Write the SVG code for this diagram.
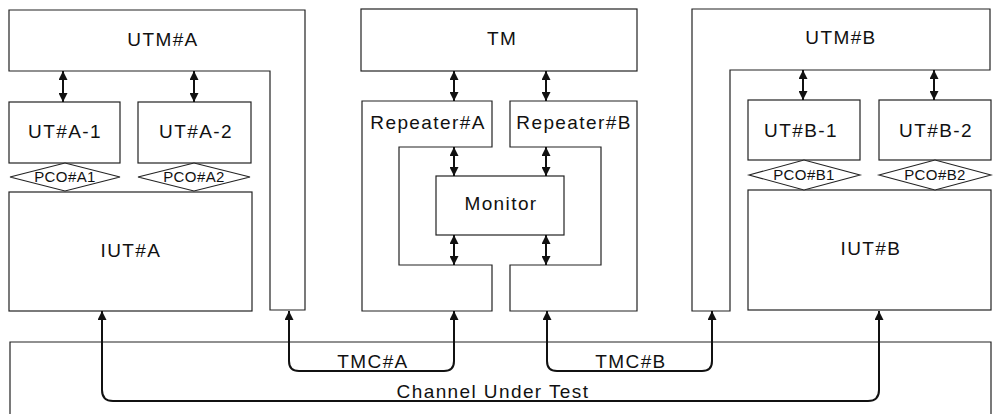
<svg xmlns="http://www.w3.org/2000/svg" width="993" height="414" viewBox="0 0 993 414">
  <style>
    .box { fill: #fff; stroke: #222; stroke-width: 1.2; }
    .pco { fill: #fff; stroke: #222; stroke-width: 1.1; }
    .lbl { font-family: "Liberation Sans", Arial, sans-serif; font-size: 19px; letter-spacing: 1.4px; fill: #111; text-anchor: middle; }
    .small { font-family: "Liberation Sans", Arial, sans-serif; font-size: 15px; letter-spacing: 0.4px; fill: #111; text-anchor: middle; }
    .link { fill: none; stroke: #111; stroke-width: 2; }
  </style>
  <defs>
    <marker id="head" viewBox="0 0 10 10" refX="10" refY="5" markerWidth="10" markerHeight="9" markerUnits="userSpaceOnUse" orient="auto-start-reverse">
      <path d="M0,0 L10,5 L0,10 z" fill="#111"/>
    </marker>
  </defs>
  <rect width="993" height="414" fill="#fff"/>

  <!-- test channel frame -->
  <g id="channel">
    <path class="box" d="M10,416 V342 H991 V416"/>
    <text class="lbl" x="493" y="398">Channel Under Test</text>
  </g>

  <!-- side A -->
  <g id="utm-a">
    <path class="box" d="M9,10 H305 V310 H270 V71 H9 Z"/>
    <text class="lbl" x="163" y="46">UTM#A</text>
  </g>
  <g id="ut-a1">
    <rect class="box" x="9" y="102" width="111" height="61"/>
    <text class="lbl" x="65" y="138">UT#A-1</text>
  </g>
  <g id="ut-a2">
    <rect class="box" x="138" y="102" width="113" height="61"/>
    <text class="lbl" x="196" y="138">UT#A-2</text>
  </g>
  <g id="iut-a">
    <rect class="box" x="9" y="192" width="243" height="119"/>
    <text class="lbl" x="131" y="257">IUT#A</text>
  </g>
  <g id="pco-a1">
    <polygon class="pco" points="10,177 65,163 120,177 65,191"/>
    <text class="small" x="65" y="182">PCO#A1</text>
  </g>
  <g id="pco-a2">
    <polygon class="pco" points="138,177 194,163 250,177 194,191"/>
    <text class="small" x="194" y="182">PCO#A2</text>
  </g>

  <!-- test manager -->
  <g id="tm">
    <rect class="box" x="361" y="9" width="276" height="62"/>
    <text class="lbl" x="502" y="45">TM</text>
  </g>
  <g id="repeater-a">
    <path class="box" d="M362,101 H492 V147 H399 V265 H492 V311 H362 Z"/>
    <text class="lbl" x="428" y="129">Repeater#A</text>
  </g>
  <g id="repeater-b">
    <path class="box" d="M510,101 H637 V311 H510 V265 H601 V147 H510 Z"/>
    <text class="lbl" x="574" y="129">Repeater#B</text>
  </g>
  <g id="monitor">
    <rect class="box" x="436" y="176" width="128" height="59"/>
    <text class="lbl" x="501" y="210">Monitor</text>
  </g>

  <!-- side B -->
  <g id="utm-b">
    <path class="box" d="M692,9 H990 V70 H730 V311 H692 Z"/>
    <text class="lbl" x="841" y="44">UTM#B</text>
  </g>
  <g id="ut-b1">
    <rect class="box" x="748" y="100" width="112" height="60"/>
    <text class="lbl" x="801" y="137">UT#B-1</text>
  </g>
  <g id="ut-b2">
    <rect class="box" x="879" y="100" width="112" height="60"/>
    <text class="lbl" x="936" y="137">UT#B-2</text>
  </g>
  <g id="iut-b">
    <rect class="box" x="748" y="190" width="243" height="120"/>
    <text class="lbl" x="871" y="255">IUT#B</text>
  </g>
  <g id="pco-b1">
    <polygon class="pco" points="749,175 804,160 860,175 804,190"/>
    <text class="small" x="804" y="180">PCO#B1</text>
  </g>
  <g id="pco-b2">
    <polygon class="pco" points="879,175 935,160 991,175 935,190"/>
    <text class="small" x="935" y="180">PCO#B2</text>
  </g>

  <!-- connectors -->
  <g id="connectors">
    <line class="link" x1="63" y1="71" x2="63" y2="102" marker-start="url(#head)" marker-end="url(#head)"/>
    <line class="link" x1="194" y1="71" x2="194" y2="102" marker-start="url(#head)" marker-end="url(#head)"/>
    <line class="link" x1="454" y1="71" x2="454" y2="101" marker-start="url(#head)" marker-end="url(#head)"/>
    <line class="link" x1="546" y1="71" x2="546" y2="101" marker-start="url(#head)" marker-end="url(#head)"/>
    <line class="link" x1="454" y1="147" x2="454" y2="176" marker-start="url(#head)" marker-end="url(#head)"/>
    <line class="link" x1="546" y1="147" x2="546" y2="176" marker-start="url(#head)" marker-end="url(#head)"/>
    <line class="link" x1="454" y1="235" x2="454" y2="265" marker-start="url(#head)" marker-end="url(#head)"/>
    <line class="link" x1="546" y1="235" x2="546" y2="265" marker-start="url(#head)" marker-end="url(#head)"/>
    <line class="link" x1="803" y1="70" x2="803" y2="100" marker-start="url(#head)" marker-end="url(#head)"/>
    <line class="link" x1="934" y1="70" x2="934" y2="100" marker-start="url(#head)" marker-end="url(#head)"/>

    <!-- TMC#A loop -->
    <path class="link" d="M289,311 V361 Q289,371 299,371 H444 Q454,371 454,361 V311" marker-start="url(#head)" marker-end="url(#head)"/>
    <!-- TMC#B loop -->
    <path class="link" d="M547,311 V361 Q547,371 557,371 H702 Q712,371 712,361 V311" marker-start="url(#head)" marker-end="url(#head)"/>
    <!-- channel under test loop -->
    <path class="link" d="M102,311 V390 Q102,401 113,401 H868 Q879,401 879,390 V311" marker-start="url(#head)" marker-end="url(#head)"/>

    <text class="lbl" x="373" y="368">TMC#A</text>
    <text class="lbl" x="631" y="368">TMC#B</text>
  </g>
</svg>
